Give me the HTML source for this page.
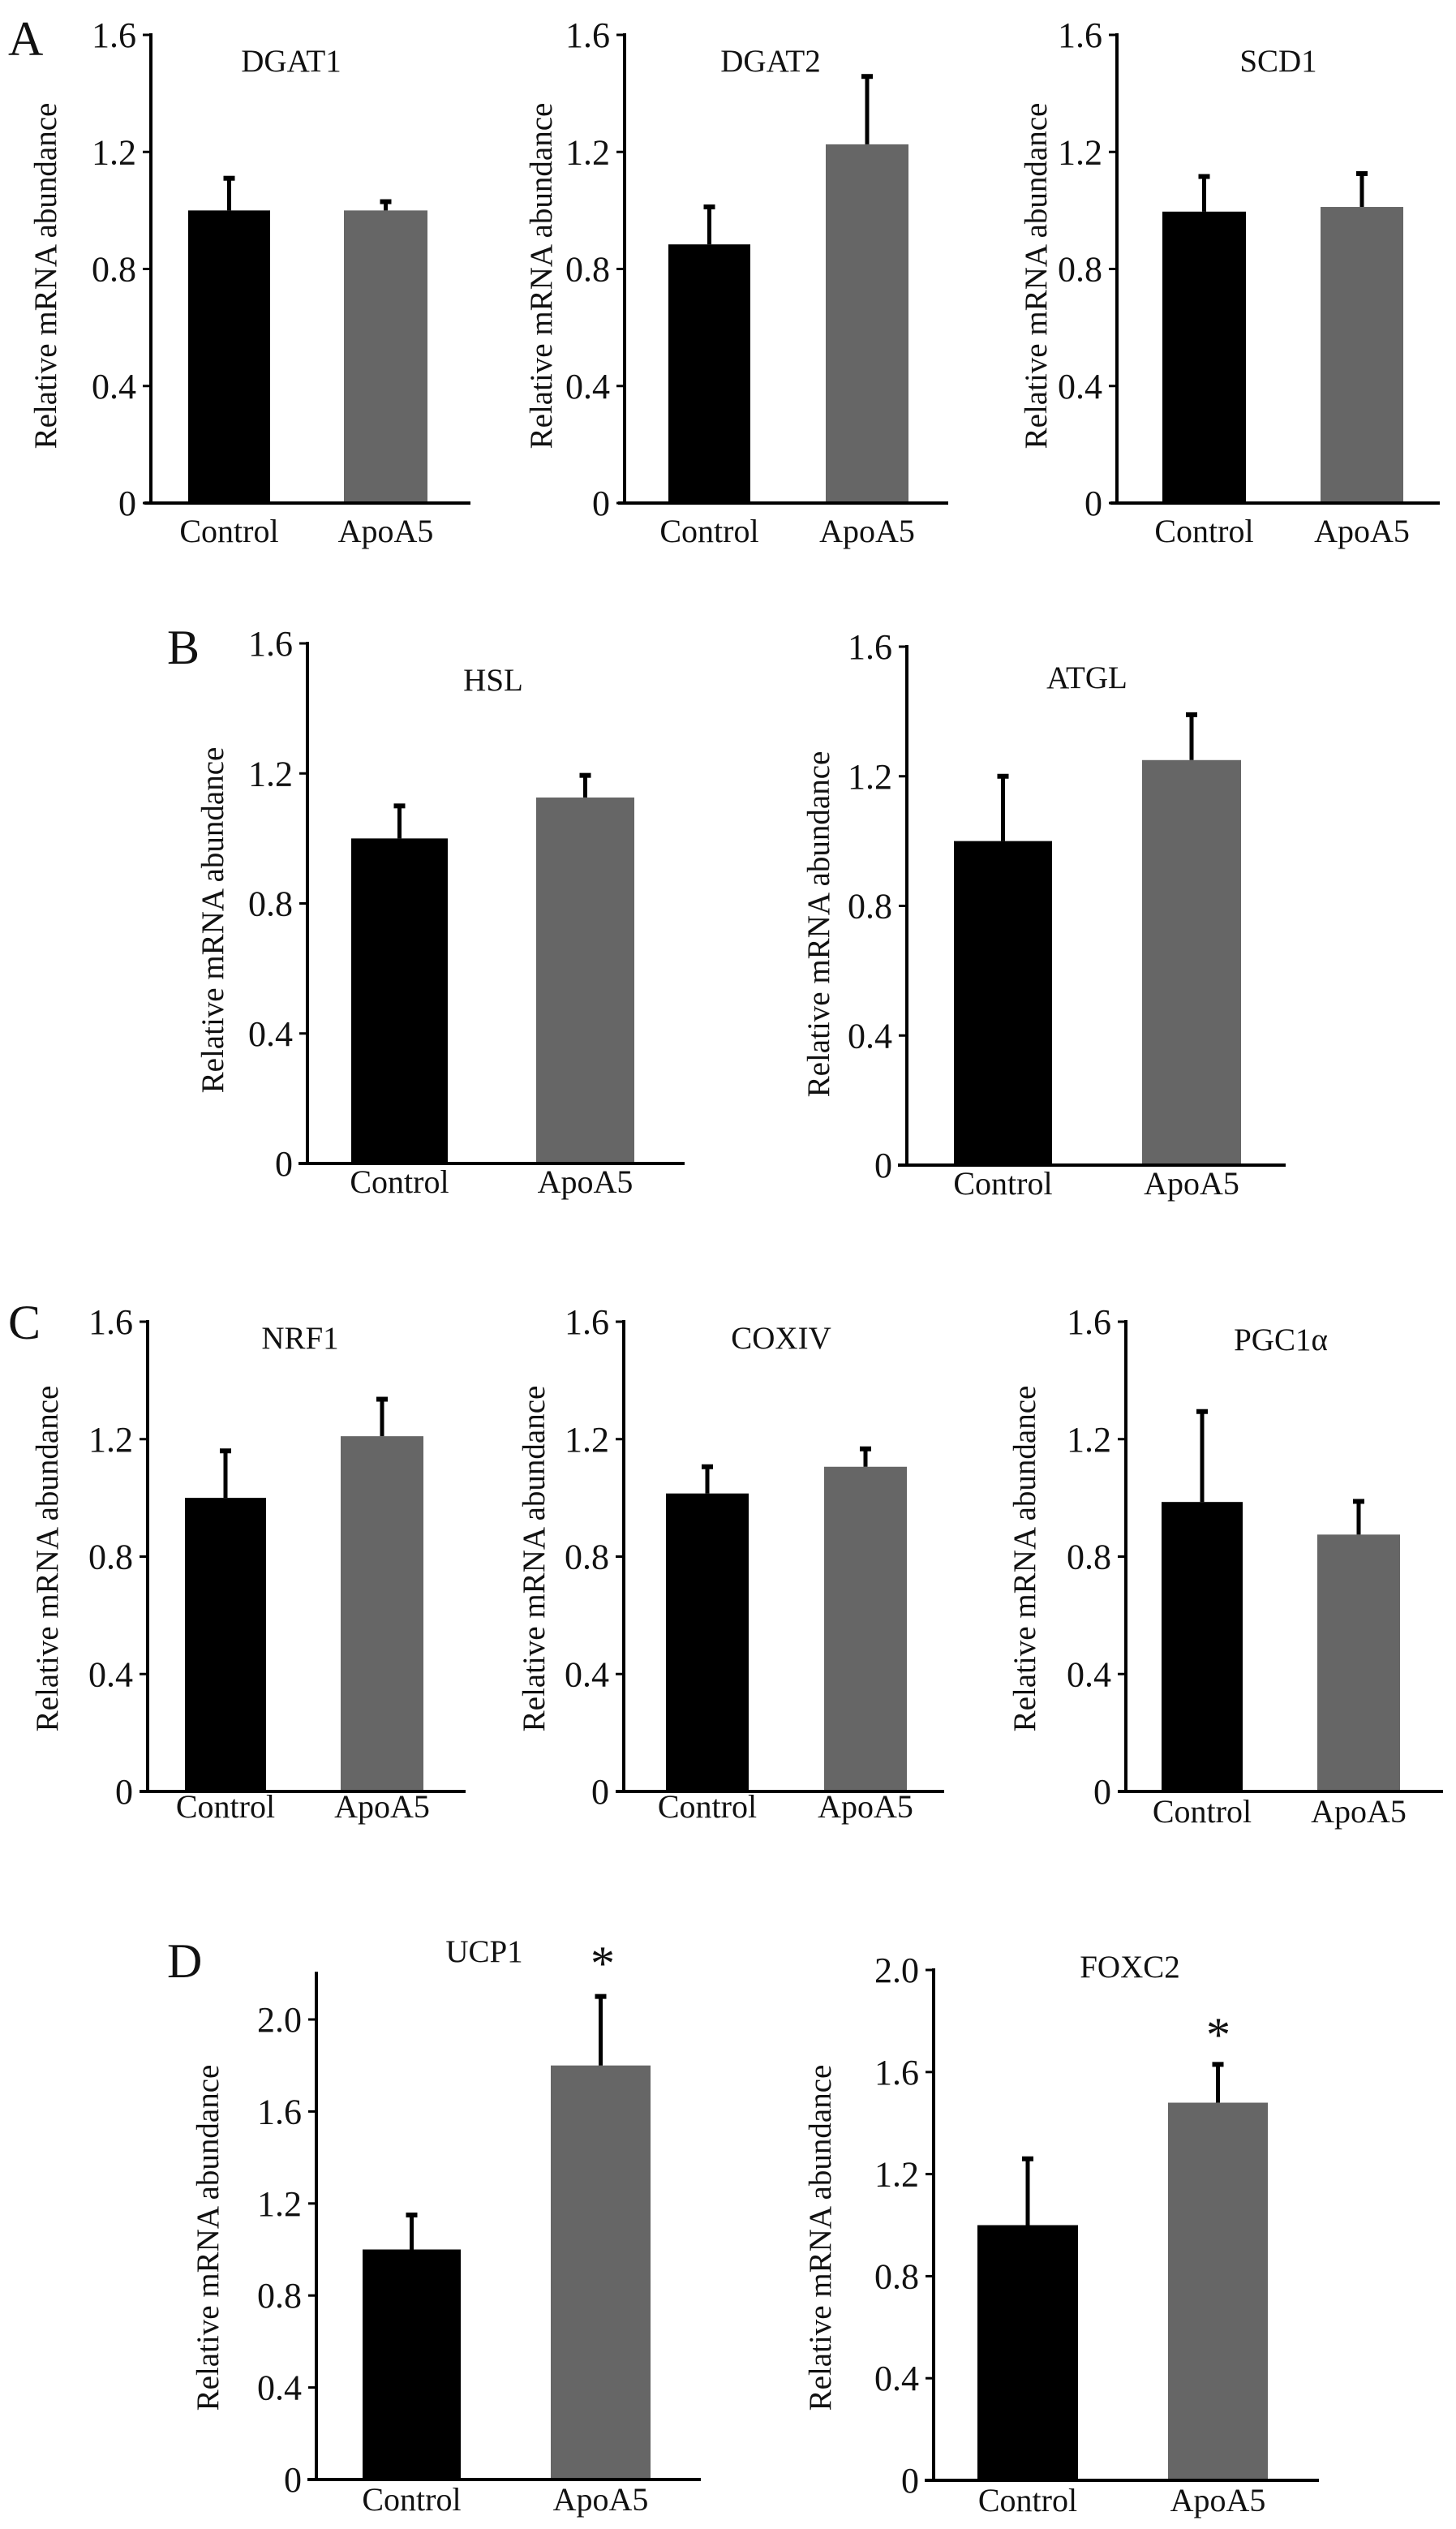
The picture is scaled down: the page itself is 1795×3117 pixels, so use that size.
<!DOCTYPE html>
<html><head><meta charset="utf-8">
<style>
html,body{margin:0;padding:0;background:#fff;}
svg{display:block;}
text{font-family:"Liberation Serif","Times New Roman",serif;fill:#111;}
</style></head>
<body>
<svg id="fig" width="1795" height="3117" viewBox="0 0 1795 3117" xmlns="http://www.w3.org/2000/svg">
<text x="10" y="68" font-size="60">A</text>
<text x="206" y="818" font-size="60">B</text>
<text x="10" y="1650" font-size="60">C</text>
<text x="206" y="2437" font-size="60">D</text>
</svg>
<script>
// ---- data ----
const geneNames = ["DGAT1","DGAT2","SCD1","HSL","ATGL","NRF1","COXIV","PGC1α","UCP1","FOXC2"];
const categories = ["Control","ApoA5"];
const controlMeans = [1.0, 0.884, 0.996, 1.0, 1.0, 1.0, 1.015, 0.986, 1.0, 1.0];
const controlErrTop = [1.11, 1.012, 1.116, 1.10, 1.20, 1.16, 1.106, 1.294, 1.15, 1.26];
const apoMeans = [1.0, 1.226, 1.012, 1.126, 1.25, 1.21, 1.106, 0.875, 1.80, 1.48];
const apoErrTop = [1.03, 1.458, 1.126, 1.194, 1.39, 1.336, 1.167, 0.988, 2.10, 1.63];
const significant = [false,false,false,false,false,false,false,false,true,true];
const ticksLow = [0, 0.4, 0.8, 1.2, 1.6];
const ticksHigh = [0, 0.4, 0.8, 1.2, 1.6, 2.0];
const tickLabelsLow = ["0","0.4","0.8","1.2","1.6"];
const tickLabelsHigh = ["0","0.4","0.8","1.2","1.6","2.0"];

// ---- layout (pixels) ----
const layout = [
 {ax:186, xs:178, xe:580, y0:620, yt:43, vmax:1.6, top:1.6, b:[232,333,424,527], tx:359, ty:88, yl:55, ylc:340, lo:48, hi:false},
 {ax:770, xs:762, xe:1169, y0:620, yt:43, vmax:1.6, top:1.6, b:[824,925,1018,1120], tx:950, ty:88, yl:666, ylc:340, lo:48, hi:false},
 {ax:1377, xs:1369, xe:1775, y0:620, yt:43, vmax:1.6, top:1.6, b:[1433,1536,1628,1730], tx:1576, ty:88, yl:1276, ylc:340, lo:48, hi:false},
 {ax:379, xs:368, xe:844, y0:1434, yt:793, vmax:1.6, top:1.6, b:[433,552,661,782], tx:608, ty:851, yl:261, ylc:1134, lo:36, hi:false},
 {ax:1118, xs:1107, xe:1585, y0:1436, yt:797, vmax:1.6, top:1.6, b:[1176,1297,1408,1530], tx:1340, ty:848, yl:1008, ylc:1139, lo:36, hi:false},
 {ax:182, xs:172, xe:574, y0:2208, yt:1629, vmax:1.6, top:1.6, b:[228,328,420,522], tx:370, ty:1662, yl:57, ylc:1921, lo:32, hi:false},
 {ax:769, xs:759, xe:1164, y0:2208, yt:1629, vmax:1.6, top:1.6, b:[821,923,1016,1118], tx:963, ty:1662, yl:657, ylc:1921, lo:32, hi:false},
 {ax:1388, xs:1378, xe:1779, y0:2208, yt:1629, vmax:1.6, top:1.6, b:[1432,1532,1624,1726], tx:1579, ty:1664, yl:1262, ylc:1921, lo:38, hi:false},
 {ax:390, xs:379, xe:864, y0:3056, yt:2489, vmax:2.0, top:2.2, b:[447,568,679,802], tx:597, ty:2418, yl:255, ylc:2758, lo:38, hi:true},
 {ax:1151, xs:1140, xe:1626, y0:3057, yt:2428, vmax:2.0, top:2.0, b:[1205,1329,1440,1563], tx:1393, ty:2437, yl:1010, ylc:2758, lo:38, hi:true}
];
const starPos = [null,null,null,null,null,null,null,null,{x:743,y:2440},{x:1502,y:2528}];

const NS = "http://www.w3.org/2000/svg";
const svg = document.getElementById("fig");
function mk(tag, attrs, parent){
  const e = document.createElementNS(NS, tag);
  for (const k in attrs) e.setAttribute(k, attrs[k]);
  (parent||svg).appendChild(e);
  return e;
}
geneNames.forEach((gene, i) => {
  const L = layout[i];
  const y = v => L.y0 - (L.y0 - L.yt) * v / L.vmax;
  const slug = gene.toLowerCase().replace(/[^a-z0-9]/g,'');
  const g = mk("g", {});
  
  
  const vals = [controlMeans[i], apoMeans[i]];
  const errs = [controlErrTop[i], apoErrTop[i]];
  const fills = ["#000000", "#666666"];
  for (let k = 0; k < 2; k++) {
    const x1 = L.b[k*2], x2 = L.b[k*2+1];
    const r = mk("rect", {x:x1, y:y(vals[k]), width:x2-x1, height:L.y0-y(vals[k]), fill:fills[k]}, g);
    
    
    const cx = (x1 + x2) / 2;
    const el = mk("line", {x1:cx, x2:cx, y1:y(vals[k]), y2:y(errs[k]), stroke:"#000", "stroke-width":5}, g);
    
    
    const cap = mk("line", {x1:cx-7, x2:cx+7, y1:y(errs[k]), y2:y(errs[k]), stroke:"#000", "stroke-width":6}, g);
    
    
    const lab = mk("text", {x:cx, y:L.y0 + L.lo, "font-size":40, "text-anchor":"middle"}, g);
    lab.textContent = categories[k];
    
    
  }
  const ya = mk("line", {x1:L.ax, x2:L.ax, y1:y(L.top)-2, y2:L.y0+2, stroke:"#000", "stroke-width":4}, g);
  
  
  const xa = mk("line", {x1:L.xs, x2:L.xe, y1:L.y0, y2:L.y0, stroke:"#000", "stroke-width":4}, g);
  
  
  const tv = L.hi ? ticksHigh : ticksLow;
  const tl = L.hi ? tickLabelsHigh : tickLabelsLow;
  tv.forEach((t, j) => {
    const tm = mk("line", {x1:L.ax-10, x2:L.ax, y1:y(t), y2:y(t), stroke:"#000", "stroke-width":3}, g);
    
    
    const tt = mk("text", {x:L.ax-18, y:y(t)+15, "font-size":44, "text-anchor":"end", fill:"#222"}, g);
    tt.textContent = tl[j];
    
    
  });
  const title = mk("text", {x:L.tx, y:L.ty, "font-size":39, "text-anchor":"middle"}, g);
  title.textContent = gene;
  
  
  const yl = mk("text", {x:0, y:0, "font-size":39, "text-anchor":"middle", transform:"translate(" + (L.yl+14) + "," + L.ylc + ") rotate(-90)"}, g);
  yl.textContent = "Relative mRNA abundance";
  
  
  if (significant[i] && starPos[i]) {
    const st = mk("text", {x:starPos[i].x, y:starPos[i].y, "font-size":60, "text-anchor":"middle"}, g);
    st.textContent = "*";
    
    
  }
});
</script>
</body></html>
